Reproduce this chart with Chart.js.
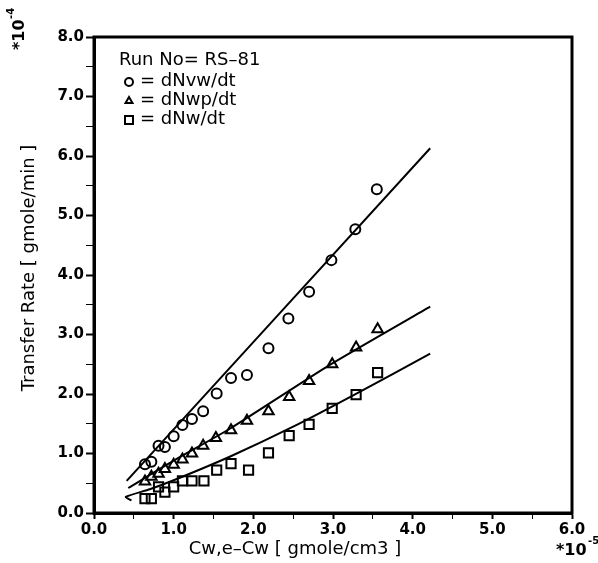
<!DOCTYPE html>
<html>
<head>
<meta charset="utf-8">
<script src="https://cdn.jsdelivr.net/npm/chart.js@4.4.0/dist/chart.umd.min.js"></script>
<style>
  html, body { margin: 0; padding: 0; background: #fff; }
  #wrap { width: 598px; height: 563px; position: relative; }
</style>
</head>
<body>
<div id="wrap"><canvas id="chartRate" width="598" height="563"></canvas></div>
<script>
// measured points (x in 1e-5 gmole/cm3, y in 1e-4 gmole/min)
const circX = [0.64, 0.72, 0.81, 0.89, 1.00, 1.11, 1.23, 1.37, 1.54, 1.72, 1.92, 2.19, 2.44, 2.70, 2.98, 3.28, 3.55];
const circY = [0.82, 0.86, 1.13, 1.11, 1.29, 1.48, 1.58, 1.71, 2.01, 2.27, 2.32, 2.77, 3.27, 3.72, 4.25, 4.77, 5.44];

const triX = [0.64, 0.72, 0.81, 0.89, 1.00, 1.11, 1.23, 1.37, 1.53, 1.72, 1.92, 2.19, 2.45, 2.70, 2.99, 3.29, 3.56];
const triY = [0.53, 0.61, 0.66, 0.74, 0.81, 0.90, 1.00, 1.13, 1.26, 1.39, 1.55, 1.71, 1.95, 2.22, 2.50, 2.78, 3.09];

const sqX = [0.64, 0.72, 0.81, 0.89, 1.00, 1.11, 1.23, 1.38, 1.54, 1.72, 1.94, 2.19, 2.45, 2.70, 2.99, 3.29, 3.56];
const sqY = [0.24, 0.24, 0.44, 0.35, 0.44, 0.54, 0.54, 0.54, 0.72, 0.83, 0.72, 1.01, 1.30, 1.49, 1.76, 1.99, 2.36];

// fitted curves
const circFitX = [0.41, 4.22];
const circFitY = [0.54, 6.13];
const triFitX = [0.43, 1.00, 1.71, 2.96, 4.22];
const triFitY = [0.42, 0.88, 1.42, 2.49, 3.47];
const sqFitX = [0.47, 0.40, 0.70, 1.00, 1.71, 2.50, 3.30, 4.22];
const sqFitY = [0.21, 0.27, 0.40, 0.55, 0.95, 1.45, 2.01, 2.68];

const legendTitle = 'Run No= RS\u201381';
const legendLabels = ['= dNvw/dt', '= dNwp/dt', '= dNw/dt'];
const legendStyles = ['circle', 'triangle', 'rect'];

const FONT = '"DejaVu Sans", sans-serif';

const toPts = (xs, ys) => xs.map((x, i) => ({ x: x, y: ys[i] }));

function markerSet(label, xs, ys, style, r) {
    return {
        label: label,
        data: toPts(xs, ys),
        showLine: false,
        pointStyle: style,
        pointRadius: r,
        pointBorderWidth: 2,
        pointBorderColor: '#000',
        pointBackgroundColor: 'rgba(255,255,255,0)'
    };
}

function fitSet(xs, ys) {
    return {
        data: toPts(xs, ys),
        showLine: true,
        borderColor: '#000',
        borderWidth: 2,
        pointRadius: 0,
        tension: 0.2
    };
}

// small symbols for the in-plot legend
function drawSymbol(ctx, style, x, y, r) {
    ctx.beginPath();
    if (style === 'circle') {
        ctx.arc(x, y, r, 0, Math.PI * 2);
    } else if (style === 'triangle') {
        ctx.moveTo(x, y - r);
        ctx.lineTo(x + r * 0.866, y + r * 0.5);
        ctx.lineTo(x - r * 0.866, y + r * 0.5);
        ctx.closePath();
    } else {
        ctx.rect(x - r, y - r, 2 * r, 2 * r);
    }
    ctx.stroke();
}

const extrasPlugin = {
    id: 'extras',
    afterDraw(chart) {
        const ctx = chart.ctx;
        const a = chart.chartArea;
        ctx.save();
        // frame
        ctx.strokeStyle = '#000';
        ctx.lineWidth = 3;
        ctx.strokeRect(a.left, a.top, a.right - a.left, a.bottom - a.top);

        // legend text
        ctx.fillStyle = '#000';
        ctx.textBaseline = 'middle';
        ctx.textAlign = 'left';
        ctx.font = '18px ' + FONT;
        ctx.fillText(legendTitle, 119, 60);
        const rows = [81, 100, 119];
        ctx.lineWidth = 2;
        legendLabels.forEach((t, i) => {
            drawSymbol(ctx, legendStyles[i], 129, rows[i] + 1, 4);
            ctx.fillText(t, 140, rows[i]);
        });

        // axis titles
        ctx.font = '18px ' + FONT;
        ctx.textAlign = 'center';
        ctx.fillText('Cw,e\u2013Cw [ gmole/cm3 ]', 295, 549);

        ctx.save();
        ctx.translate(29, 268);
        ctx.rotate(-Math.PI / 2);
        ctx.fillText('Transfer Rate [ gmole/min ]', 0, 0);
        ctx.restore();

        // exponent markers
        ctx.font = 'bold 16px ' + FONT;
        ctx.textAlign = 'left';
        ctx.fillText('*10', 556, 551);
        ctx.font = 'bold 10px ' + FONT;
        ctx.fillText('-5', 588, 541);

        ctx.save();
        ctx.translate(20, 50);
        ctx.rotate(-Math.PI / 2);
        ctx.font = 'bold 16px ' + FONT;
        ctx.fillText('*10', 0, 0);
        ctx.font = 'bold 10px ' + FONT;
        ctx.fillText('-4', 31, -9);
        ctx.restore();

        ctx.restore();
    }
};

const tickLabel = (v) => (Math.abs(v - Math.round(v)) < 1e-6 ? Number(v).toFixed(1) : '');
const tickW = (c) => (Math.abs(c.tick.value - Math.round(c.tick.value)) < 1e-6 ? 2 : 1);

new Chart(document.getElementById('chartRate').getContext('2d'), {
    type: 'scatter',
    data: {
        datasets: [
            fitSet(circFitX, circFitY),
            fitSet(triFitX, triFitY),
            fitSet(sqFitX, sqFitY),
            markerSet('dNvw/dt', circX, circY, 'circle', 5),
            markerSet('dNwp/dt', triX, triY, 'triangle', 6),
            markerSet('dNw/dt', sqX, sqY, 'rect', 6.5)
        ]
    },
    options: {
        responsive: false,
        animation: false,
        layout: { padding: { top: 37, right: 26, left: 0, bottom: 0 } },
        plugins: { legend: { display: false }, tooltip: { enabled: false } },
        scales: {
            x: {
                type: 'linear',
                min: 0, max: 6,
                afterFit: (s) => { s.height = 50; },
                border: { display: true, color: '#000', width: 3 },
                grid: { drawOnChartArea: false, drawTicks: true, tickLength: 6, color: '#000', tickWidth: tickW },
                ticks: { stepSize: 0.5, callback: tickLabel, color: '#000', padding: 2, maxRotation: 0, autoSkip: false,
                         font: { family: FONT, size: 15, weight: 'bold' } }
            },
            y: {
                type: 'linear',
                min: 0, max: 8,
                afterFit: (s) => { s.width = 94; },
                border: { display: true, color: '#000', width: 3 },
                grid: { drawOnChartArea: false, drawTicks: true, tickLength: 8, color: '#000', tickWidth: tickW },
                ticks: { stepSize: 0.5, callback: tickLabel, color: '#000', padding: 2, autoSkip: false,
                         font: { family: FONT, size: 15, weight: 'bold' } }
            }
        }
    },
    plugins: [extrasPlugin]
});
</script>
</body>
</html>
